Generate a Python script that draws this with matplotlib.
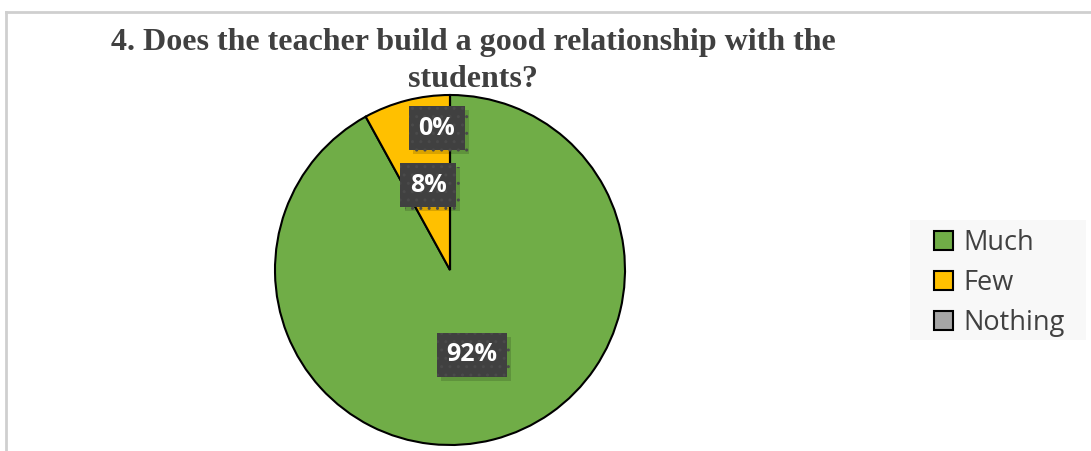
import numpy as np
import matplotlib.pyplot as plt
import matplotlib.patheffects as pe
from matplotlib.patches import Patch, Rectangle
from matplotlib.lines import Line2D

# data
categories = ["Much", "Few", "Nothing"]
values = [92, 8, 0]
colors = ["#70AD47", "#FFC000", "#A5A5A5"]
title = "4. Does the teacher build a good relationship with the\nstudents?"

W, H = 1091, 451
fig = plt.figure(figsize=(W / 100, H / 100), dpi=100)
fig.patch.set_facecolor("white")

# chart area border (top and left visible)
fig.add_artist(Line2D([5.5 / W, 1090 / W], [1 - 11.5 / H, 1 - 11.5 / H], color="#CFCFCF", lw=2))
fig.add_artist(Line2D([5.5 / W, 5.5 / W], [0, 1 - 11.5 / H], color="#CFCFCF", lw=2))

# pie axes: centre (450, 270) px, radius 175 px
cx, cy, r = 450, 270, 175
ax = fig.add_axes([(cx - r) / W, (H - cy - r) / H, 2 * r / W, 2 * r / H])
wedges, _ = ax.pie(values, colors=colors, startangle=90, counterclock=False,
                   wedgeprops=dict(edgecolor="black", linewidth=1.5))
ax.set_xlim(-1, 1)
ax.set_ylim(-1, 1)
ax.set_aspect("auto")
ax.axis("off")

# data labels
total = sum(values)
angles = np.cumsum([0] + values[:-1]) / total * 360 + np.array(values) / total * 180
for v, a in zip(values, angles):
    theta = np.deg2rad(90 - a)
    x, y = 0.5 * np.cos(theta), 0.5 * np.sin(theta)
    if v == 0:
        # Excel nudges the empty slice's label out of the way
        x, y = x - 0.075, y + 0.31
    t = ax.text(x, y, f"{v}%", ha="center", va="center", color="white",
                fontsize=18, fontweight="bold", family="Open Sans",
                bbox=dict(boxstyle="square,pad=0.38", facecolor="#404040",
                          edgecolor="#4a4a4a", linewidth=0, hatch=".."),
                zorder=5)
    t.get_bbox_patch().set_path_effects(
        [pe.SimplePatchShadow(offset=(3, -3), shadow_rgbFace="black", alpha=0.15), pe.Normal()])

# title
fig.text(473 / W, 1 - 28 / H, title, ha="center", va="top", fontsize=23,
         fontweight="bold", family="Liberation Serif", color="#404040",
         linespacing=1.35)

# legend background + entries
fig.add_artist(Rectangle((910 / W, 1 - 340 / H), 176 / W, 120 / H,
                         transform=fig.transFigure, facecolor="#F8F8F8",
                         edgecolor="none", zorder=0))
handles = [Patch(facecolor=c, edgecolor="black", linewidth=1.5) for c in colors]
leg = fig.legend(handles, categories, loc="center left",
                 bbox_to_anchor=(934 / W, 1 - 283 / H), frameon=False,
                 prop=dict(family="Open Sans", size=19.5), labelcolor="#404040",
                 handlelength=0.7, handleheight=0.7, handletextpad=0.37,
                 labelspacing=0.45, borderpad=0, borderaxespad=0)

fig.savefig("out.png", dpi=100)
